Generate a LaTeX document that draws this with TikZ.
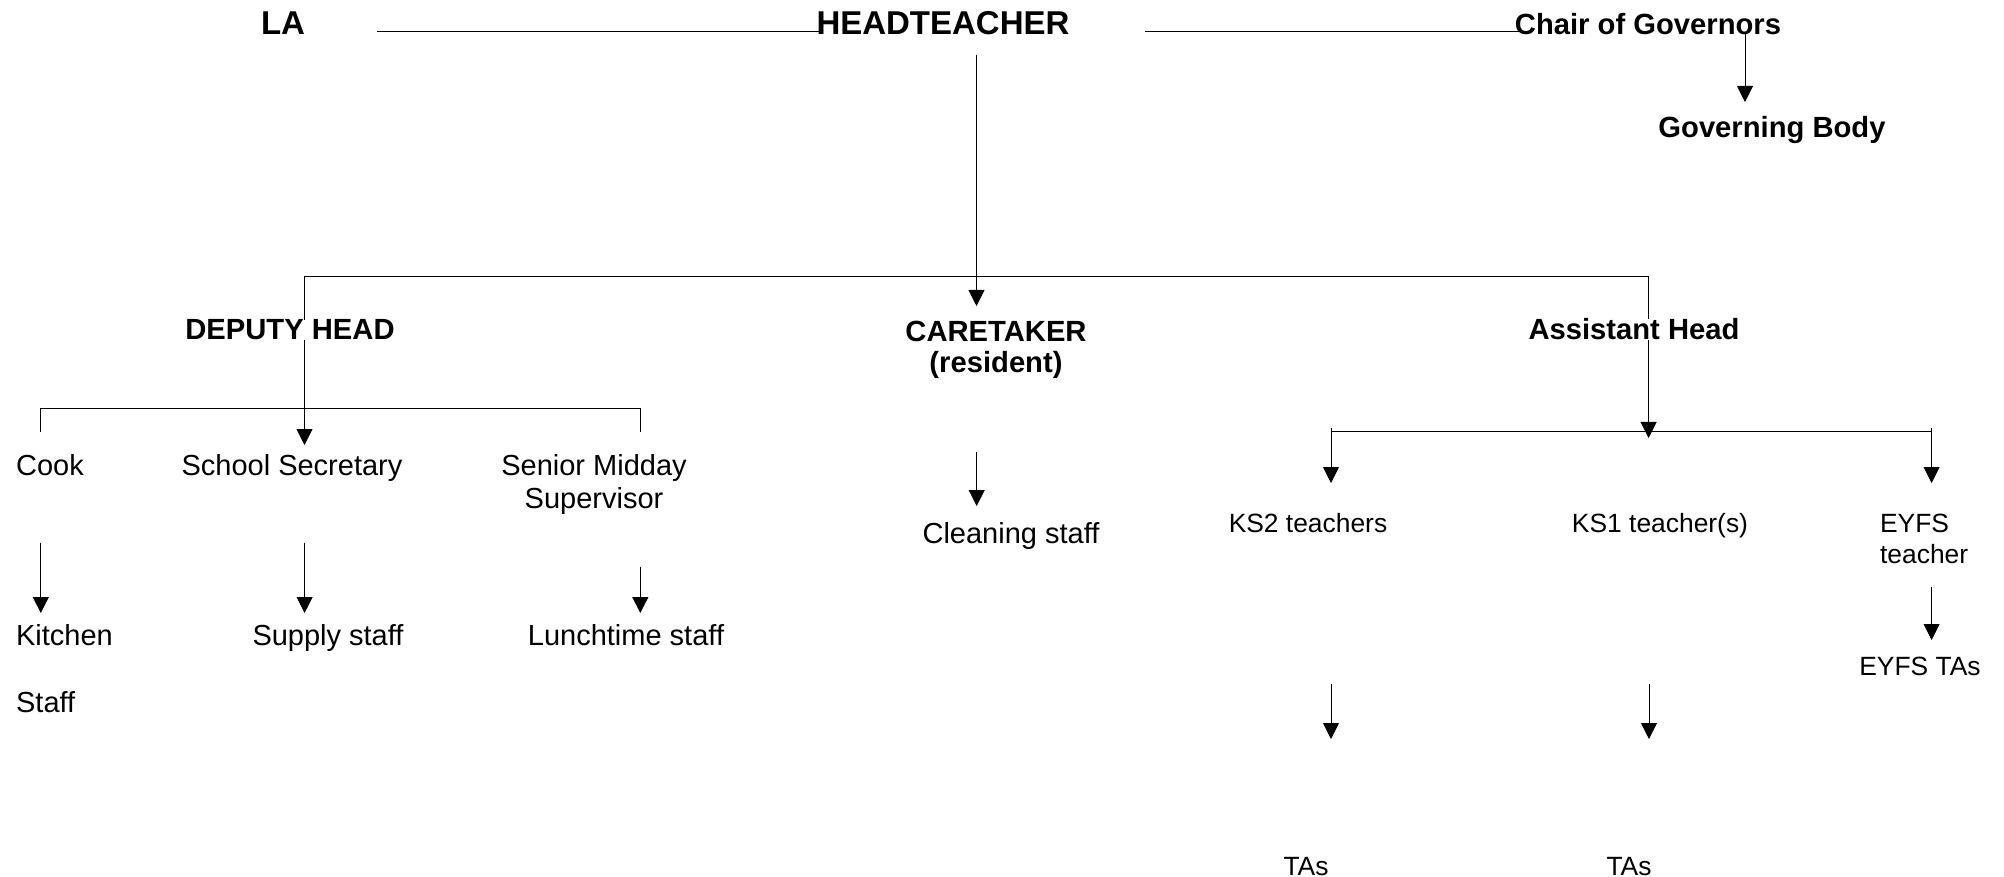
\documentclass[tikz,border=0pt]{standalone}
\usepackage{fontspec}
\setmainfont{Liberation Sans}
\usetikzlibrary{arrows.meta,backgrounds}
\begin{document}
\begin{tikzpicture}[x=0.5pt,y=-0.5pt,
  line width=1.1pt,
  tip/.tip={Triangle[width=8pt,length=8pt]},
  arr/.style={-tip},
  arr2/.style={tip-tip},
  big/.style={font=\fontsize{16.5}{19}\selectfont\bfseries, inner sep=0pt, anchor=base},
  hd/.style={font=\fontsize{14.6}{15.5}\selectfont\bfseries, inner sep=0pt, anchor=base, align=center},
  st/.style={font=\fontsize{14.5}{16.5}\selectfont, inner sep=0pt, anchor=base, align=center},
  sm/.style={font=\fontsize{13.2}{15.5}\selectfont, inner sep=0pt, anchor=base, align=center},
]
\useasboundingbox (0,0) rectangle (2004,877);

% top level
\node[big] (la) at (283,35) {LA};
\node[big] (ht) at (943,35) {HEADTEACHER};
\node[hd] (chair) at (1648,35) {Chair of Governors};
\node[hd] (gb) at (1772,138) {Governing Body};

% second level (multi-line nodes: base = last line's baseline)
\node[hd,fill=white] (dep) at (290,340) {DEPUTY HEAD};
\node[hd] (care) at (996,372) {CARETAKER\\(resident)};
\node[hd,fill=white] (ah) at (1634,340) {Assistant Head};

% deputy branch
\node[st,anchor=base west] (cook) at (15,475) {Cook};
\node[st] (sec) at (292,475) {School Secretary};
\node[st] (sms) at (594,508) {Senior Midday\\Supervisor};
\node[st,anchor=base west,align=left] (kit) at (15,712) {Kitchen\\[17pt]Staff};
\node[st] (sup) at (328,645) {Supply staff};
\node[st] (lunch) at (626,645) {Lunchtime staff};

% caretaker branch
\node[st] (clean) at (1011,543) {Cleaning staff};

% assistant head branch
\node[sm] (ks2) at (1308,532) {KS2 teachers};
\node[sm] (ks1) at (1660,532) {KS1 teacher(s)};
\node[sm,anchor=base west,align=left] (eyfs) at (1879,563) {EYFS\\teacher};
\node[sm] (eyfsta) at (1920,675) {EYFS TAs};
\node[sm] (ta2) at (1306,875) {TAs};
\node[sm] (ta1) at (1629,875) {TAs};

% connector points
\coordinate (laR) at (377,31);
\coordinate (htL) at (821,31);
\coordinate (htR) at (1145,31);
\coordinate (chL) at (1519,31);
\coordinate (chD) at (1745,34);
\coordinate (gbU) at (1745,102);
\coordinate (htD) at (976.5,55);
\coordinate (careU) at (976.5,306);
\coordinate (busL) at (304.5,276);
\coordinate (busR) at (1648.6,276);
\coordinate (secU) at (304.5,445);
\coordinate (ahBus) at (1648.6,438);
\coordinate (dbL) at (40.8,431.7);
\coordinate (dbLT) at (40.8,408.3);
\coordinate (dbRT) at (640.3,408.3);
\coordinate (dbR) at (640.3,431.7);
\coordinate (abL) at (1331,431.7);
\coordinate (abR) at (1931.6,431.7);
\coordinate (ks2T) at (1331,428);
\coordinate (ks2U) at (1331,483);
\coordinate (eyT) at (1931.6,428);
\coordinate (eyU) at (1931.6,483);
\coordinate (cookD) at (40.8,542.7);
\coordinate (kitU) at (40.8,613);
\coordinate (secD) at (304.6,542.7);
\coordinate (supU) at (304.6,613);
\coordinate (smsD) at (640.3,566.7);
\coordinate (lunchU) at (640.3,613);
\coordinate (careD) at (976.7,451.7);
\coordinate (cleanU) at (976.7,506);
\coordinate (eyD) at (1931.6,587);
\coordinate (eytaU) at (1931.6,640);
\coordinate (ks2D) at (1331,684);
\coordinate (ta2U) at (1331,739);
\coordinate (ks1D) at (1649,684);
\coordinate (ta1U) at (1649,739);

\begin{scope}[on background layer]
  \draw (laR) -- (htL);
  \draw (htR) -- (chL);
  \draw[arr] (chD) -- (gbU);
  \draw[arr] (htD) -- (careU);
  \draw[arr2] (secU) -- (busL) -- (busR) -- (ahBus);
  \draw (dbL) -- (dbLT) -- (dbRT) -- (dbR);
  \draw (abL) -- (abR);
  \draw[arr] (ks2T) -- (ks2U);
  \draw[arr] (eyT) -- (eyU);
  \draw[arr] (cookD) -- (kitU);
  \draw[arr] (secD) -- (supU);
  \draw[arr] (smsD) -- (lunchU);
  \draw[arr] (careD) -- (cleanU);
  \draw[arr] (eyD) -- (eytaU);
  \draw[arr] (ks2D) -- (ta2U);
  \draw[arr] (ks1D) -- (ta1U);
\end{scope}
\end{tikzpicture}
\end{document}
